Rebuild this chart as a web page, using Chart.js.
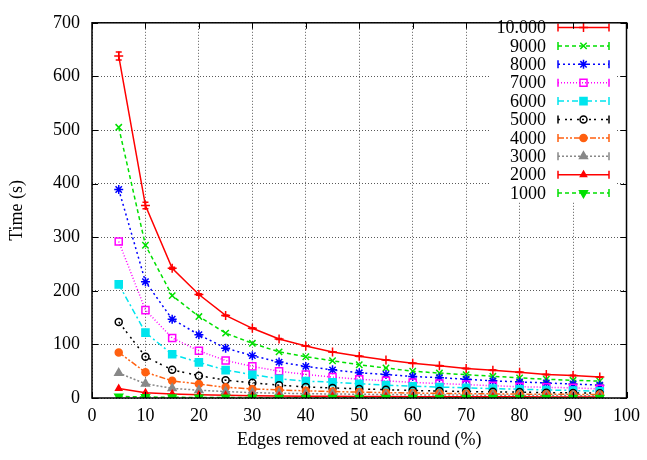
<!DOCTYPE html>
<html>
<head>
<meta charset="utf-8">
<script src="https://cdn.jsdelivr.net/npm/chart.js@4/dist/chart.umd.min.js"></script>
<style>
  html, body { margin: 0; padding: 0; background: #fff; }
  #wrap { width: 647px; height: 460px; }
</style>
</head>
<body>
<div id="wrap"><canvas id="grafico" width="647" height="460"></canvas></div>
<script>
// percentuais de arestas removidas por rodada
const edgesRemoved = [5, 10, 15, 20, 25, 30, 35, 40, 45, 50, 55, 60, 65, 70, 75, 80, 85, 90, 95];

const seriesNames = ['10.000', '9000', '8000', '7000', '6000', '5000', '4000', '3000', '2000', '1000'];

const t10000 = [638, 359, 242, 193, 154, 130, 110, 97, 86, 78, 71, 65, 60, 55, 52, 48, 44, 42, 39];
const t9000 = [505, 285, 191, 152, 121, 102, 86, 77, 69.5, 62, 56, 50, 46.5, 43.5, 40.5, 37.5, 35, 33, 31.5];
const t8000 = [389, 217, 147, 118, 93, 79, 67, 59, 52.5, 47, 44, 40, 38, 35, 32, 30, 28, 26, 24];
const t7000 = [292, 164, 112, 88, 70, 59, 50, 44, 39, 35, 32, 29, 27, 25, 23, 21, 20, 19, 17];
const t6000 = [212, 122, 81.5, 66.5, 52, 43.5, 36, 31.5, 29.5, 26.5, 24, 22, 20.5, 19, 17.5, 16.3, 15, 14, 12.7];
const t5000 = [142, 77, 52.5, 41.7, 33.3, 28.4, 24, 20.6, 18.8, 17, 15.5, 14, 13, 12, 11.5, 11, 10, 9.5, 9];
const t4000 = [85, 48, 32, 26, 20, 17, 15, 13.4, 12, 11, 10, 9.3, 8.7, 8.2, 7.7, 7.3, 7, 6.7, 6.4];
const t3000 = [46.5, 26.6, 18, 14.5, 12, 10, 9, 8, 7.5, 7, 6.5, 6, 5.6, 5.3, 5, 4.8, 4.6, 4.4, 4.2];
const t2000 = [17.6, 10, 7.5, 6, 5, 4.3, 3.8, 3.4, 3.1, 2.9, 2.7, 2.5, 2.4, 2.3, 2.2, 2.1, 2.0, 1.9, 1.8];
const t1000 = [3, 1.8, 1.3, 1, 0.8, 0.7, 0.6, 0.55, 0.5, 0.48, 0.45, 0.43, 0.4, 0.38, 0.36, 0.35, 0.33, 0.32, 0.3];

// barras de erro (só visíveis na série 10.000)
const err10000 = [7.5, 6, 2, 1.5, 1, 1, 1, 0.5, 0.5, 0.5, 0.5, 0.5, 0.5, 0.5, 0.5, 0.5, 0.5, 0.5, 0.5];

const xTicks = [0, 10, 20, 30, 40, 50, 60, 70, 80, 90, 100];
const yTicks = [0, 100, 200, 300, 400, 500, 600, 700];

const allSeries = [t10000, t9000, t8000, t7000, t6000, t5000, t4000, t3000, t2000, t1000];
const allErrors = [err10000, null, null, null, null, null, null, null, null, null];

const estilos = [
  { cor: '#ff0000', dash: [], ponto: 'cross', r: 4.5, fill: false, rot: 0 },
  { cor: '#00e000', dash: [4, 3], ponto: 'crossRot', r: 4.5, fill: false, rot: 0 },
  { cor: '#0000ff', dash: [2, 3], ponto: 'star', r: 4.5, fill: false, rot: 0 },
  { cor: '#ff00ff', dash: [1, 2], ponto: 'rect', r: 5, fill: false, rot: 0 },
  { cor: '#00e5ee', dash: [6, 3, 2, 3], ponto: 'rect', r: 5, fill: true, rot: 0 },
  { cor: '#000000', dash: [2, 5, 2, 3], ponto: 'circle', r: 3.5, fill: false, rot: 0 },
  { cor: '#ff6010', dash: [6, 2, 2, 2, 2, 2], ponto: 'circle', r: 3.5, fill: true, rot: 0 },
  { cor: '#888888', dash: [2, 2], ponto: 'triangle', r: 4.5, fill: true, rot: 0 },
  { cor: '#ff0000', dash: [], ponto: 'triangle', r: 3.5, fill: true, rot: 0 },
  { cor: '#00e000', dash: [4, 3], ponto: 'triangle', r: 4.5, fill: true, rot: 180 }
];

const FONTE = 'Liberation Serif';

const datasets = allSeries.map((serie, i) => {
  const e = estilos[i];
  return {
    label: seriesNames[i],
    data: serie.map((v, k) => ({ x: edgesRemoved[k], y: v })),
    errors: allErrors[i],
    borderColor: e.cor,
    borderWidth: 1.5,
    borderDash: e.dash,
    pointStyle: e.ponto,
    pointRadius: e.r,
    pointRotation: e.rot,
    pointBorderWidth: 1.5,
    pointBorderColor: e.cor,
    pointBackgroundColor: e.fill ? e.cor : 'rgba(0,0,0,0)',
    fill: false,
    tension: 0,
    order: 10 - i
  };
});

// barras de erro com "caps"
const errorBarPlugin = {
  id: 'errorBars',
  afterDatasetsDraw(chart) {
    const ctx = chart.ctx;
    const sx = chart.scales.x, sy = chart.scales.y;
    chart.data.datasets.forEach(ds => {
      if (!ds.errors) return;
      ctx.save();
      ctx.strokeStyle = ds.borderColor;
      ctx.lineWidth = 1.5;
      ds.data.forEach((p, k) => {
        const e = ds.errors[k];
        if (!e) return;
        const px = sx.getPixelForValue(p.x);
        const y1 = sy.getPixelForValue(p.y + e);
        const y2 = sy.getPixelForValue(p.y - e);
        ctx.beginPath();
        ctx.moveTo(px, y1); ctx.lineTo(px, y2);
        ctx.moveTo(px - 3, y1); ctx.lineTo(px + 3, y1);
        ctx.moveTo(px - 3, y2); ctx.lineTo(px + 3, y2);
        ctx.stroke();
      });
      ctx.restore();
    });
  }
};

// legenda no estilo gnuplot + moldura com marcas internas
const moldura = {
  id: 'moldura',
  afterDraw(chart) {
    const ctx = chart.ctx;
    const a = chart.chartArea;
    const sx = chart.scales.x, sy = chart.scales.y;

    // legenda
    ctx.save();
    ctx.fillStyle = '#fff';
    ctx.fillRect(490, 15, 126, 187);
    ctx.font = '18px "' + FONTE + '"';
    ctx.textAlign = 'right';
    ctx.textBaseline = 'middle';
    chart.data.datasets.forEach((ds, i) => {
      const y = 27.5 + i * 18.4;
      const e = estilos[i];
      ctx.fillStyle = '#000';
      ctx.fillText(ds.label, 546, y + 1);
      ctx.strokeStyle = e.cor;
      ctx.lineWidth = 1.5;
      ctx.setLineDash(e.dash);
      ctx.beginPath();
      ctx.moveTo(558, y); ctx.lineTo(609, y);
      ctx.stroke();
      ctx.setLineDash([]);
      ctx.beginPath();
      ctx.moveTo(558, y - 4); ctx.lineTo(558, y + 4);
      ctx.moveTo(609, y - 4); ctx.lineTo(609, y + 4);
      ctx.stroke();
      ctx.fillStyle = e.fill ? e.cor : 'rgba(0,0,0,0)';
      Chart.helpers.drawPoint(ctx, {
        pointStyle: e.ponto, radius: e.r, rotation: e.rot, borderWidth: 1.5
      }, 583.5, y);
    });
    ctx.restore();

    // moldura
    ctx.save();
    ctx.strokeStyle = '#000';
    ctx.lineWidth = 1.5;
    ctx.strokeRect(a.left, a.top, a.right - a.left, a.bottom - a.top);
    ctx.lineWidth = 1;
    ctx.beginPath();
    xTicks.forEach(v => {
      const px = Math.round(sx.getPixelForValue(v)) + 0.5;
      ctx.moveTo(px, a.bottom); ctx.lineTo(px, a.bottom - 6);
      ctx.moveTo(px, a.top); ctx.lineTo(px, a.top + 6);
    });
    yTicks.forEach(v => {
      const py = Math.round(sy.getPixelForValue(v)) + 0.5;
      ctx.moveTo(a.left, py); ctx.lineTo(a.left + 6, py);
      ctx.moveTo(a.right, py); ctx.lineTo(a.right - 6, py);
    });
    ctx.stroke();
    ctx.restore();
  }
};

const grafico = new Chart(document.getElementById('grafico').getContext('2d'), {
  type: 'line',
  data: { datasets: datasets },
  plugins: [errorBarPlugin, moldura],
  options: {
    responsive: false,
    animation: false,
    layout: { padding: { top: 11, right: 15, left: 0, bottom: 0 } },
    plugins: {
      legend: { display: false },
      tooltip: { enabled: false }
    },
    scales: {
      x: {
        type: 'linear',
        min: 0, max: 100,
        afterFit: s => { s.height = 62; },
        afterBuildTicks: s => { s.ticks = xTicks.map(v => ({ value: v })); },
        ticks: { color: '#000', padding: 7, font: { family: FONTE, size: 18 } },
        grid: { color: 'rgba(0,0,0,0.65)', lineWidth: 1, drawTicks: false },
        border: { display: false, dash: [1, 2] },
        title: {
          display: true,
          text: 'Edges removed at each round (%)',
          color: '#000',
          font: { family: FONTE, size: 18 },
          padding: { top: 0, bottom: 9 }
        }
      },
      y: {
        min: 0, max: 700,
        afterFit: s => { s.width = 92; },
        afterBuildTicks: s => { s.ticks = yTicks.map(v => ({ value: v })); },
        ticks: { color: '#000', padding: 12, font: { family: FONTE, size: 18 } },
        grid: { color: 'rgba(0,0,0,0.65)', lineWidth: 1, drawTicks: false },
        border: { display: false, dash: [1, 2] },
        title: {
          display: true,
          text: 'Time (s)',
          color: '#000',
          font: { family: FONTE, size: 18 },
          padding: { top: 6, bottom: 0 }
        }
      }
    }
  }
});
</script>
</body>
</html>
